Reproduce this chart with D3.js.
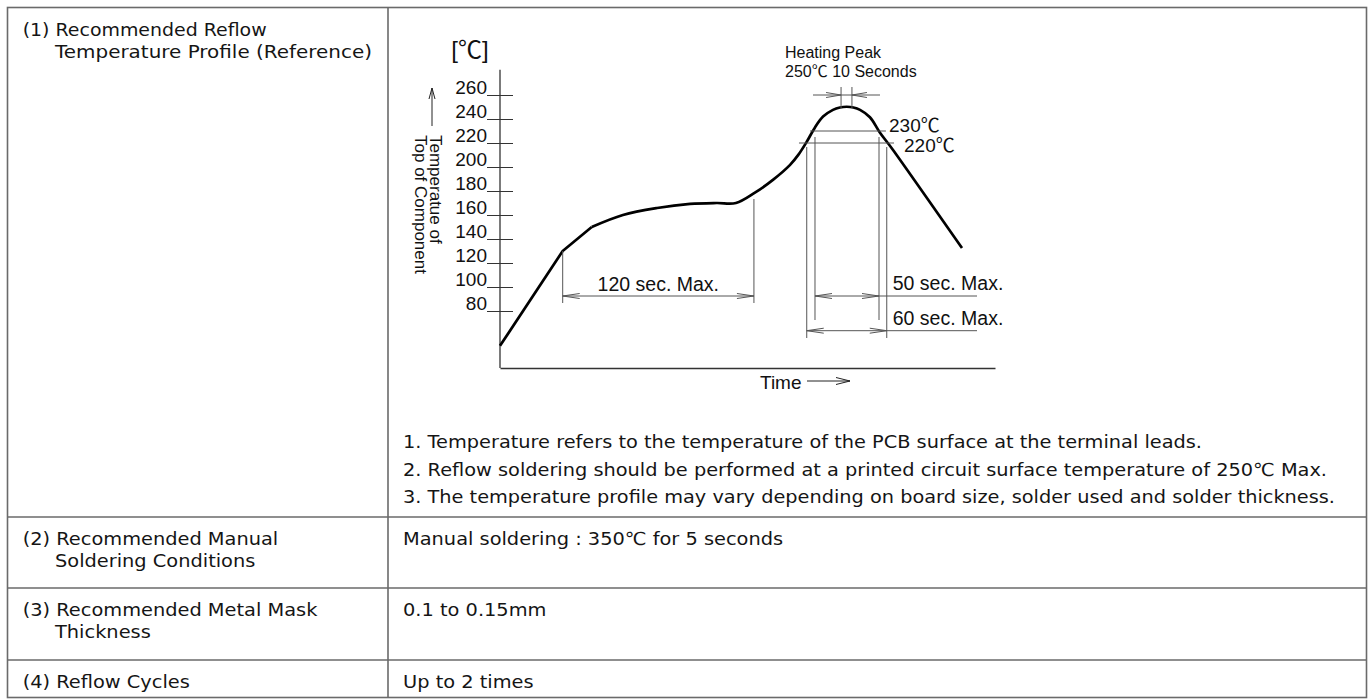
<!DOCTYPE html>
<html>
<head>
<meta charset="utf-8">
<script src="https://cdn.jsdelivr.net/npm/d3@7"></script>
<style>
  body { margin: 0; background: #fff; }
  svg { display: block; }
  .tbl { font-family: "DejaVu Sans", "Noto Sans CJK KR", sans-serif; font-size: 18px; fill: #151515; }
  .ch { font-family: "Liberation Sans", Arial, "Noto Sans CJK KR", sans-serif; fill: #111; }
</style>
</head>
<body>
<svg id="c" width="1371" height="699"></svg>
<script>
// ---------------- DATA ----------------
const yTicks = [80, 100, 120, 140, 160, 180, 200, 220, 240, 260];
// reflow profile (time in s, temperature in °C)
const rampTime = [0, 38, 55.6];
const rampTemp = [51, 130, 150];
const profileTime = [55.6, 74.5, 95.2, 115.2, 131.3, 143, 154.5, 165.6, 175.8, 181, 185.9, 190.9, 195.8, 201.8, 206, 210.1, 214.2, 218.2, 224.2, 230.3, 238.2, 280];
const profileTemp = [150, 160, 165.8, 169.2, 170, 170, 178.6, 189.5, 201.8, 210.5, 221, 233, 242, 247.6, 249.6, 250.2, 249.6, 247.6, 241.5, 228.6, 214.2, 132.5];
// annotation windows (s)
const soakWindow = [38, 153.9];      // 120 sec. Max.
const peakWindow = [206.7, 213.3];   // 10 seconds at peak
const peakArrowEnds = [189.7, 230.3];
const window230 = [190.9, 229.7];    // 50 sec. Max.
const window220 = [185.9, 234.4];    // 60 sec. Max.
const line230 = [187.9, 233.9];
const line220 = [181.2, 238.8];
const leaderEnd = 289.1;
const refTemps = [230, 220];
const peakTemp = 250;

const leftRows = [
  ["(1) Recommended Reflow", "Temperature Profile (Reference)"],
  ["(2) Recommended Manual", "Soldering Conditions"],
  ["(3) Recommended Metal Mask", "Thickness"],
  ["(4) Reflow Cycles"]
];
const rightRows = [
  null,
  "Manual soldering : 350℃ for 5 seconds",
  "0.1 to 0.15mm",
  "Up to 2 times"
];
const notes = [
  "1. Temperature refers to the temperature of the PCB surface at the terminal leads.",
  "2. Reflow soldering should be performed at a printed circuit surface temperature of 250℃ Max.",
  "3. The temperature profile may vary depending on board size, solder used and solder thickness."
];

// ---------------- LAYOUT ----------------
const svg = d3.select('#c');
const T = { l: 7.5, r: 1366.5, t: 7.5, b: 697.5, col: 388 };
const rowLines = [517, 588, 660];
const rowTops = [T.t, 517, 588, 660];
const lineColor = '#6a6a6a';

// table grid
svg.append('rect').attr('x', T.l).attr('y', T.t).attr('width', T.r - T.l).attr('height', T.b - T.t)
  .attr('fill', 'none').attr('stroke', lineColor).attr('stroke-width', 1.6);
svg.append('line').attr('x1', T.col).attr('x2', T.col).attr('y1', T.t).attr('y2', T.b)
  .attr('stroke', lineColor).attr('stroke-width', 1.6);
rowLines.forEach(yy => svg.append('line').attr('x1', T.l).attr('x2', T.r).attr('y1', yy).attr('y2', yy)
  .attr('stroke', lineColor).attr('stroke-width', 1.6));

// table text
const measured = [];
function addText(str, x, yb, target) {
  const t = svg.append('text').attr('class', 'tbl').attr('x', x).attr('y', yb).text(str);
  const n = t.node().getComputedTextLength();
  if (target) { measured.push(target / n); t.attr('textLength', target).attr('lengthAdjust', 'spacingAndGlyphs'); }
  return { t, n };
}
const pending = [];
leftRows.forEach((lines, i) => {
  lines.forEach((s, j) => {
    const tgt = (i === 0) ? (j === 0 ? 244 : 317) : null;
    const r = addText(s, j === 0 ? 22.7 : 55, rowTops[i] + 28 + j * 22, tgt);
    if (!tgt) pending.push(r);
  });
});
rightRows.forEach((s, i) => {
  if (!s) return;
  pending.push(addText(s, 403, rowTops[i] + 28, null));
});
const noteTargets = [799, 924, 932];
notes.forEach((s, i) => addText(s, 403, 448 + i * 27.5, noteTargets[i]));
const k = d3.mean(measured);
pending.forEach(r => r.t.attr('textLength', r.n * k).attr('lengthAdjust', 'spacingAndGlyphs'));

// ---------------- CHART ----------------
const x = d3.scaleLinear().domain([0, 300]).range([500, 995]);
const y = d3.scaleLinear().domain([32.5, 260]).range([368, 95]);
const axisColor = '#333';
const dimColor = '#555';

// y axis domain line
svg.append('line').attr('x1', x(0)).attr('x2', x(0)).attr('y1', y(281)).attr('y2', y(32.5))
  .attr('stroke', axisColor).attr('stroke-width', 1.3);
// x axis
const xAx = svg.append('g').attr('transform', `translate(0,${y(32.5)})`)
  .call(d3.axisBottom(x).tickValues([]).tickSizeOuter(0));
xAx.select('.domain').attr('stroke', axisColor).attr('stroke-width', 1.3);

// y ticks (underline style)
const yAx = svg.append('g').attr('transform', `translate(${x(0)},0)`)
  .call(d3.axisLeft(y).tickValues(yTicks).tickSize(13).tickPadding(0).tickSizeOuter(0));
yAx.select('.domain').remove();
yAx.selectAll('.tick line').attr('x1', 13).attr('x2', -13).attr('stroke', axisColor).attr('stroke-width', 1);
yAx.selectAll('.tick text').attr('x', -13).attr('dy', '-1.5px')
  .attr('font-family', '"Liberation Sans", Arial, sans-serif').attr('font-size', 19).attr('fill', '#111');

// unit
svg.append('text').attr('class', 'ch').attr('x', 470).attr('y', 58).attr('text-anchor', 'middle')
  .attr('font-size', 24).text('[℃]');

// y label arrow + rotated label
svg.append('path').attr('d', 'M432,126 L432,88 M429,99 L432,88 L435,99')
  .attr('fill', 'none').attr('stroke', '#222').attr('stroke-width', 1);
const yl = svg.append('text').attr('class', 'ch').attr('font-size', 17)
  .attr('transform', 'translate(430,135) rotate(90)');
yl.append('tspan').attr('x', 0).attr('y', 0).text('Temperatue of');
yl.append('tspan').attr('x', 0).attr('y', 15).text('Top of Component');

// curve
const line = d3.line().x(d => x(d[0])).y(d => y(d[1]));
svg.append('path').datum(rampTime.map((t, i) => [t, rampTemp[i]]))
  .attr('d', line).attr('fill', 'none').attr('stroke', '#000').attr('stroke-width', 2.7)
  .attr('stroke-linejoin', 'round');
svg.append('path').datum(profileTime.map((t, i) => [t, profileTemp[i]]))
  .attr('d', d3.line().x(d => x(d[0])).y(d => y(d[1])).curve(d3.curveCatmullRom.alpha(0.5)))
  .attr('fill', 'none').attr('stroke', '#000').attr('stroke-width', 2.7)
  .attr('stroke-linejoin', 'round');

// helpers
const g = svg.append('g').attr('fill', 'none').attr('stroke', dimColor).attr('stroke-width', 1);
function seg(x1, y1, x2, y2) { g.append('line').attr('x1', x1).attr('y1', y1).attr('x2', x2).attr('y2', y2); }
function head(xt, yy, dir, len = 17, half = 2.5) {
  g.append('path').attr('d', `M${xt + dir * len},${yy - half} L${xt},${yy} L${xt + dir * len},${yy + half}`);
}
function label(str, xx, yy, size, anchor = 'start') {
  svg.append('text').attr('class', 'ch').attr('x', xx).attr('y', yy).attr('font-size', size)
    .attr('text-anchor', anchor).text(str);
}

// 120 sec. Max.
const dim1 = 296;
seg(x(soakWindow[0]), y(130), x(soakWindow[0]), 303);
seg(x(soakWindow[1]), 199, x(soakWindow[1]), 303);
seg(x(soakWindow[0]), dim1, x(soakWindow[1]), dim1);
head(x(soakWindow[0]), dim1, 1);
head(x(soakWindow[1]), dim1, -1);
label('120 sec. Max.', (x(soakWindow[0]) + x(soakWindow[1])) / 2, 291, 19.5, 'middle');

// heating peak
label('Heating Peak', 785, 58, 16);
label('250℃ 10 Seconds', 785, 77, 16);
const pkY = 95;
seg(x(peakWindow[0]), 87, x(peakWindow[0]), y(peakTemp) + 1);
seg(x(peakWindow[1]), 87, x(peakWindow[1]), y(peakTemp) + 1);
seg(x(peakArrowEnds[0]), pkY, x(peakArrowEnds[1]), pkY);
head(x(peakWindow[0]), pkY, -1, 15, 2.5);
head(x(peakWindow[1]), pkY, 1, 15, 2.5);

// 230 / 220 lines
seg(x(line230[0]), y(refTemps[0]), x(line230[1]), y(refTemps[0]));
seg(x(line220[0]), y(refTemps[1]), x(line220[1]), y(refTemps[1]));
label('230℃', 889, 132, 19);
label('220℃', 904, 152, 19);

// windows
seg(x(window230[0]), 137, x(window230[0]), 320);
seg(x(window230[1]), 137, x(window230[1]), 320);
seg(x(window220[0]), 147, x(window220[0]), 338);
seg(x(window220[1]), 147, x(window220[1]), 338);
const dim50 = 296, dim60 = 330.7;
seg(x(window230[0]), dim50, x(leaderEnd), dim50);
head(x(window230[0]), dim50, 1);
head(x(window230[1]), dim50, -1);
seg(x(window220[0]), dim60, x(leaderEnd), dim60);
head(x(window220[0]), dim60, 1);
head(x(window220[1]), dim60, -1);
label('50 sec. Max.', x(window220[1]) + 6, 290, 19.5);
label('60 sec. Max.', x(window220[1]) + 6, 325, 19.5);

// Time label
label('Time', 760, 389, 19);
svg.append('path').attr('d', 'M807,381 L850,381 M836,377.5 L850,381 L836,384.5')
  .attr('fill', 'none').attr('stroke', '#222').attr('stroke-width', 1);
</script>
</body>
</html>
